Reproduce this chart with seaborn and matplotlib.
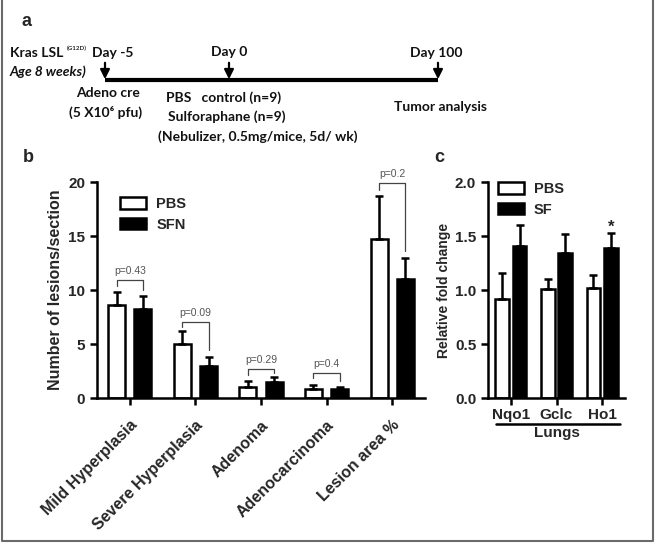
import numpy as np
import pandas as pd
import matplotlib
matplotlib.use("Agg")
import matplotlib.pyplot as plt
import seaborn as sns
from matplotlib.patches import Patch
from matplotlib.lines import Line2D

# panel b: lesion counts
lesion_types = ['Mild Hyperplasia', 'Severe Hyperplasia', 'Adenoma', 'Adenocarcinoma', 'Lesion area %']
pbs_lesions = [8.6, 5.0, 1.05, 0.85, 14.7]
pbs_lesions_err = [1.2, 1.2, 0.5, 0.4, 4.0]
sfn_lesions = [8.2, 3.0, 1.5, 0.8, 11.0]
sfn_lesions_err = [1.2, 0.8, 0.4, 0.2, 2.0]
p_values = ['p=0.43', 'p=0.09', 'p=0.29', 'p=0.4', 'p=0.2']
bracket_heights = [10.9, 7.0, 2.7, 2.3, 19.9]

# panel c: gene expression in lungs
genes = ['Nqo1', 'Gclc', 'Ho1']
pbs_fold = [0.92, 1.01, 1.02]
pbs_fold_err = [0.24, 0.09, 0.12]
sf_fold = [1.41, 1.34, 1.39]
sf_fold_err = [0.19, 0.18, 0.14]
significant = [False, False, True]

sns.set_style("ticks")
plt.rcParams['font.family'] = ['Liberation Sans', 'DejaVu Sans']
plt.rcParams['font.weight'] = 'bold'

W, H = 656, 543
fig = plt.figure(figsize=(W / 100, H / 100), dpi=100)

# ---- panel a: timeline drawn in pixel coordinates ----
ax_a = fig.add_axes([0, 0, 1, 1])
ax_a.set_xlim(0, W)
ax_a.set_ylim(H, 0)
ax_a.axis('off')
tl = dict(family=['Lato', 'DejaVu Sans'], fontsize=10, fontweight='bold', color='#111')
ax_a.text(22, 22, 'a', fontsize=13, fontweight='bold', va='center')
ax_a.plot([105, 438], [80, 80], color='black', lw=3, solid_capstyle='butt')
for xp in [105, 229, 438]:
    ax_a.annotate('', xy=(xp, 82), xytext=(xp, 60),
                  arrowprops=dict(arrowstyle='-|>', lw=1.6, color='black', mutation_scale=14))
ax_a.text(10, 53, 'Kras LSL', va='center', **tl)
ax_a.text(67, 48, '(G12D)', va='center', family=['Lato', 'DejaVu Sans'], fontsize=4.5, fontweight='bold')
ax_a.text(92, 53, 'Day -5', va='center', **tl)
ax_a.text(10, 72, 'Age 8 weeks)', va='center', style='italic', **tl)
ax_a.text(229, 52, 'Day 0', va='center', ha='center', **tl)
ax_a.text(436, 53, 'Day 100', va='center', ha='center', **tl)
ax_a.text(108, 93, 'Adeno cre', va='center', ha='center', **tl)
ax_a.text(106, 112, '(5 X10\u2076 pfu)', va='center', ha='center', **tl)
ax_a.text(166, 98, 'PBS   control (n=9)', va='center', **tl)
ax_a.text(168, 117, 'Sulforaphane (n=9)', va='center', **tl)
ax_a.text(158, 137, '(Nebulizer, 0.5mg/mice, 5d/ wk)', va='center', **tl)
ax_a.text(440, 107, 'Tumor analysis', va='center', ha='center', **tl)
ax_a.text(23, 158, 'b', fontsize=13, fontweight='bold', va='center')
ax_a.text(434, 158, 'c', fontsize=13, fontweight='bold', va='center')
# frame around the figure
ax_a.plot([2, 2, 653, 653], [0, 541, 541, 0], color='#6a6a6a', lw=1.5)


def style_axes(ax):
    sns.despine(ax=ax)
    for s in ['left', 'bottom']:
        ax.spines[s].set_linewidth(1.8)
        ax.spines[s].set_color('black')
    ax.tick_params(axis='both', width=1.8, length=5, color='black', labelsize=11)
    for lab in ax.get_xticklabels() + ax.get_yticklabels():
        lab.set_fontweight('bold')


def add_errors(ax, errs):
    for cont, err in zip(ax.containers, errs):
        xs = [p.get_x() + p.get_width() / 2 for p in cont]
        hs = [p.get_height() for p in cont]
        ax.errorbar(xs, hs, yerr=[np.zeros(len(err)), err], fmt='none', ecolor='black',
                    elinewidth=1.8, capsize=3, capthick=1.8, zorder=3)
    return


# ---- panel b ----
ax_b = fig.add_axes([97 / W, (H - 398) / H, 328 / W, 216 / H])
df_b = pd.DataFrame({'lesion': lesion_types * 2,
                     'value': pbs_lesions + sfn_lesions,
                     'group': ['PBS'] * 5 + ['SFN'] * 5})
sns.barplot(data=df_b, x='lesion', y='value', hue='group', palette=['white', 'black'],
            edgecolor='black', linewidth=1.8, width=0.8, gap=0.35, errorbar=None, ax=ax_b)
add_errors(ax_b, [pbs_lesions_err, sfn_lesions_err])
ax_b.set_ylim(0, 20)
ax_b.set_xlim(-0.5, 4.5)
ax_b.set_yticks([0, 5, 10, 15, 20])
ax_b.set_xlabel('')
ax_b.set_ylabel('Number of lesions/section', fontsize=11.5, fontweight='bold', labelpad=4)
style_axes(ax_b)
ax_b.set_xticks(range(5))
ax_b.set_xticklabels(lesion_types, rotation=45, ha='right', rotation_mode='anchor',
                     fontsize=11.5, fontweight='bold')
ax_b.tick_params(axis='x', pad=9)

# significance brackets
for i in range(5):
    x1, x2 = i - 0.2, i + 0.2
    yb = bracket_heights[i]
    y1 = min(pbs_lesions[i] + pbs_lesions_err[i] + 0.6, yb - 0.4)
    y2 = min(sfn_lesions[i] + sfn_lesions_err[i] + 0.6, yb - 0.4)
    ax_b.plot([x1, x1, x2, x2], [y1, yb, yb, y2], color='#444', lw=0.9, clip_on=False)
    ax_b.text(i, yb + 0.4, p_values[i], ha='center', va='bottom', fontsize=7.5,
              fontweight='normal', color='#555')

ax_b.legend(handles=[Patch(facecolor='white', edgecolor='black', lw=1.8),
                     Patch(facecolor='black', edgecolor='black', lw=1.8)],
            labels=['PBS', 'SFN'], loc='upper left', bbox_to_anchor=(0.07, 0.93),
            frameon=False, borderpad=0, borderaxespad=0, handlelength=1.8,
            handleheight=0.8, handletextpad=0.7, labelspacing=0.45,
            prop={'weight': 'bold', 'size': 10.5})

# ---- panel c ----
ax_c = fig.add_axes([488 / W, (H - 398) / H, 137 / W, 216 / H])
df_c = pd.DataFrame({'gene': genes * 2,
                     'value': pbs_fold + sf_fold,
                     'group': ['PBS'] * 3 + ['SF'] * 3})
sns.barplot(data=df_c, x='gene', y='value', hue='group', palette=['white', 'black'],
            edgecolor='black', linewidth=1.8, width=0.76, gap=0.22, errorbar=None, ax=ax_c)
add_errors(ax_c, [pbs_fold_err, sf_fold_err])
ax_c.set_ylim(0, 2.0)
ax_c.set_xlim(-0.5, 2.5)
ax_c.set_yticks([0, 0.5, 1.0, 1.5, 2.0])
ax_c.set_yticklabels(['0.0', '0.5', '1.0', '1.5', '2.0'])
ax_c.set_xlabel('')
ax_c.set_ylabel('Relative fold change', fontsize=10, fontweight='bold', labelpad=3)
style_axes(ax_c)
ax_c.tick_params(axis='x', pad=2)

for i, sig in enumerate(significant):
    if sig:
        ax_c.text(i + 0.19, sf_fold[i] + sf_fold_err[i] - 0.02, '*', ha='center', va='bottom',
                  fontsize=12, fontweight='bold')

ax_c.add_line(Line2D([0.06, 0.96], [-0.12, -0.12], transform=ax_c.transAxes,
                     color='black', lw=1.8, clip_on=False))
ax_c.text(0.5, -0.162, 'Lungs', transform=ax_c.transAxes, ha='center', va='center',
          fontsize=11, fontweight='bold')

ax_c.legend(handles=[Patch(facecolor='white', edgecolor='black', lw=1.8),
                     Patch(facecolor='black', edgecolor='black', lw=1.8)],
            labels=['PBS', 'SF'], loc='upper left', bbox_to_anchor=(0.07, 1.0),
            frameon=False, borderpad=0, borderaxespad=0, handlelength=1.8,
            handleheight=0.8, handletextpad=0.7, labelspacing=0.45,
            prop={'weight': 'bold', 'size': 10.5})

fig.savefig('out.png', dpi=100)
